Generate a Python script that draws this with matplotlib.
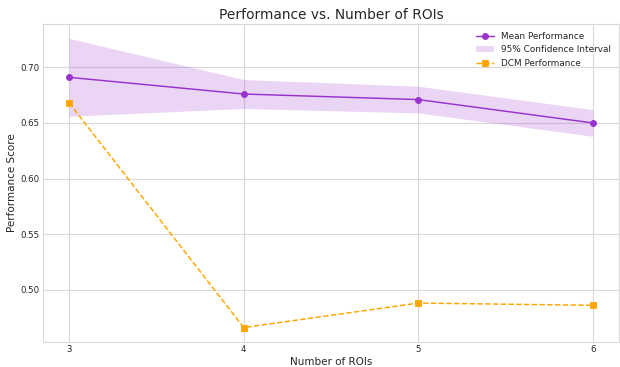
import numpy as np
import matplotlib.pyplot as plt

n_rois = [3, 4, 5, 6]
mean_perf = [0.691, 0.676, 0.671, 0.650]
ci_upper = [0.726, 0.689, 0.683, 0.662]
ci_lower = [0.656, 0.663, 0.659, 0.638]
dcm_perf = [0.668, 0.466, 0.488, 0.486]

plt.style.use('seaborn-v0_8-whitegrid')
plt.rcParams['font.family'] = 'DejaVu Sans'
plt.rcParams['grid.color'] = '#d9d9d9'
plt.rcParams['grid.linewidth'] = 1.3
plt.rcParams['axes.edgecolor'] = '#d9d9d9'
plt.rcParams['axes.linewidth'] = 1.3

fig, ax = plt.subplots(figsize=(10, 5.92), dpi=62)

ax.plot(n_rois, mean_perf, marker='o', markersize=7, linewidth=1.7,
        color='darkorchid', label='Mean Performance')
ax.fill_between(n_rois, ci_lower, ci_upper, color='darkorchid', alpha=0.2,
                linewidth=0, label='95% Confidence Interval')
ax.plot(n_rois, dcm_perf, marker='s', markersize=7, linewidth=1.7, linestyle='--',
        color='orange', label='DCM Performance')

ax.set_xticks(n_rois)
ax.tick_params(labelsize=10, labelcolor='#262626')
ax.set_xlabel('Number of ROIs', fontsize=12, color='#262626')
ax.set_ylabel('Performance Score', fontsize=12, color='#262626')
ax.set_title('Performance vs. Number of ROIs', fontsize=16, color='#262626')
ax.legend(loc='upper right', fontsize=10.3)

fig.subplots_adjust(left=43/620, right=619/620, top=1 - 24/367, bottom=1 - 342/367)
plt.savefig('out.png')
